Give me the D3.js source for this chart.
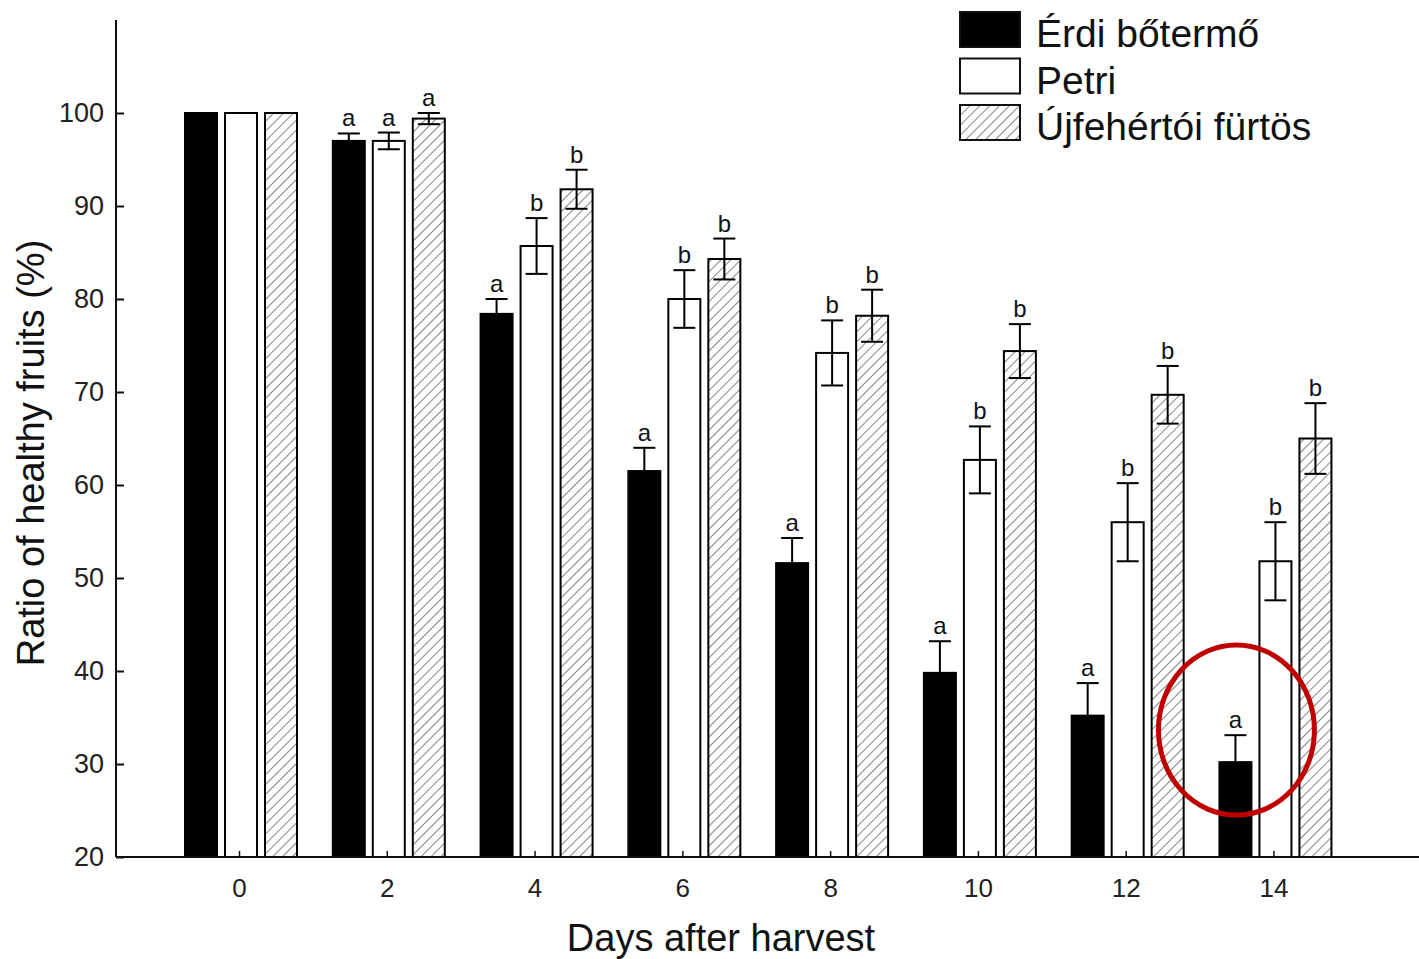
<!DOCTYPE html>
<html>
<head>
<meta charset="utf-8">
<script src="https://cdn.jsdelivr.net/npm/d3@7"></script>
<style>
  body { margin: 0; background: #fff; }
  svg { font-family: Arial, "Liberation Sans", sans-serif; }
</style>
</head>
<body>
<div id="chart"></div>
<script>
// data
var days = [0, 2, 4, 6, 8, 10, 12, 14];
var series = ["Érdi bőtermő", "Petri", "Újfehértói fürtös"];
var erdiVals = [100, 97.0, 78.4, 61.5, 51.6, 39.8, 35.2, 30.2];
var erdiErr = [0, 0.8, 1.6, 2.5, 2.7, 3.4, 3.5, 2.9];
var petriVals = [100, 97.0, 85.7, 80.0, 74.2, 62.7, 56.0, 51.8];
var petriErr = [0, 0.9, 3.0, 3.1, 3.5, 3.6, 4.2, 4.2];
var ujfVals = [100, 99.4, 91.8, 84.3, 78.2, 74.4, 69.7, 65.0];
var ujfErr = [0, 0.6, 2.1, 2.2, 2.8, 2.9, 3.1, 3.8];
var erdiLetters = ["", "a", "a", "a", "a", "a", "a", "a"];
var petriLetters = ["", "a", "b", "b", "b", "b", "b", "b"];
var ujfLetters = ["", "a", "b", "b", "b", "b", "b", "b"];
var yTicks = [20, 30, 40, 50, 60, 70, 80, 90, 100];

var W = 1419, H = 959;
var svg = d3.select("#chart").append("svg").attr("width", W).attr("height", H);

var defs = svg.append("defs");
var pat = defs.append("pattern")
    .attr("id", "hatch")
    .attr("patternUnits", "userSpaceOnUse")
    .attr("width", 7).attr("height", 7)
    .attr("patternTransform", "rotate(45)");
pat.append("rect").attr("width", 7).attr("height", 7).attr("fill", "#fff");
pat.append("line").attr("x1", 0).attr("y1", 0).attr("x2", 0).attr("y2", 7)
    .attr("stroke", "#444").attr("stroke-width", 1.3);

var fills = ["#000", "#fff", "url(#hatch)"];

var x = d3.scaleLinear().domain([-1.665, 15.97]).range([116, 1419]);
var y = d3.scaleLinear().domain([20, 110]).range([857, 20]);
var sub = d3.scaleBand().domain(series).range([-54, 58]).paddingInner(0.2);

var table = [];
days.forEach(function (d, i) {
    table.push({day: d, s: series[0], v: erdiVals[i], e: erdiErr[i], l: erdiLetters[i], k: 0});
    table.push({day: d, s: series[1], v: petriVals[i], e: petriErr[i], l: petriLetters[i], k: 1});
    table.push({day: d, s: series[2], v: ujfVals[i], e: ujfErr[i], l: ujfLetters[i], k: 2});
});

// bars
svg.append("g").selectAll("rect").data(table).enter().append("rect")
    .attr("x", function (d) { return x(d.day) + sub(d.s); })
    .attr("y", function (d) { return y(d.v); })
    .attr("width", sub.bandwidth())
    .attr("height", function (d) { return y(20) - y(d.v); })
    .attr("fill", function (d) { return fills[d.k]; })
    .attr("stroke", "#000").attr("stroke-width", 2);

// error bars
var eb = svg.append("g").selectAll("g").data(table.filter(function (d) { return d.e > 0; }))
    .enter().append("g")
    .attr("transform", function (d) { return "translate(" + (x(d.day) + sub(d.s) + sub.bandwidth() / 2) + ",0)"; });
eb.append("line")
    .attr("y1", function (d) { return y(d.v - d.e); })
    .attr("y2", function (d) { return y(d.v + d.e); })
    .attr("stroke", "#000").attr("stroke-width", 2);
eb.append("line").attr("x1", -11).attr("x2", 11)
    .attr("y1", function (d) { return y(d.v + d.e); })
    .attr("y2", function (d) { return y(d.v + d.e); })
    .attr("stroke", "#000").attr("stroke-width", 2);
eb.append("line").attr("x1", -11).attr("x2", 11)
    .attr("y1", function (d) { return y(d.v - d.e); })
    .attr("y2", function (d) { return y(d.v - d.e); })
    .attr("stroke", "#000").attr("stroke-width", 2);
eb.append("text")
    .attr("y", function (d) { return y(d.v + d.e) - 7; })
    .attr("text-anchor", "middle")
    .attr("font-size", 24).attr("fill", "#111")
    .text(function (d) { return d.l; });

// axes
var yAxis = d3.axisRight(y).tickValues(yTicks).tickSize(8);
var gy = svg.append("g").attr("transform", "translate(116,0)").call(yAxis);
gy.select(".domain").attr("d", "M0," + y(110) + "V" + y(20)).attr("stroke", "#111").attr("stroke-width", 2);
gy.selectAll(".tick line").attr("stroke", "#111").attr("stroke-width", 2);
gy.selectAll(".tick text").attr("text-anchor", "end").attr("x", -12).attr("font-size", 27).attr("fill", "#222");

var xAxis = d3.axisTop(x).tickValues(days).tickSize(6).tickFormat(d3.format("d"));
var gx = svg.append("g").attr("transform", "translate(0," + y(20) + ")").call(xAxis);
gx.select(".domain").attr("d", "M116,0H1419").attr("stroke", "#111").attr("stroke-width", 2);
gx.selectAll(".tick line").attr("stroke", "#111").attr("stroke-width", 1.5);
gx.selectAll(".tick text").attr("y", 40).attr("font-size", 26).attr("fill", "#222");

svg.append("text")
    .attr("transform", "translate(44,453) rotate(-90)")
    .attr("text-anchor", "middle").attr("font-size", 38).attr("fill", "#111")
    .text("Ratio of healthy fruits (%)");
svg.append("text")
    .attr("x", 721).attr("y", 951)
    .attr("text-anchor", "middle").attr("font-size", 38).attr("fill", "#111")
    .text("Days after harvest");

// legend
var lg = svg.append("g").attr("transform", "translate(960,12)");
var li = lg.selectAll("g").data(series).enter().append("g")
    .attr("transform", function (d, i) { return "translate(0," + (i * 46.5) + ")"; });
li.append("rect").attr("width", 60).attr("height", 35)
    .attr("fill", function (d, i) { return fills[i]; })
    .attr("stroke", "#111").attr("stroke-width", 2);
li.append("text").attr("x", 76).attr("y", 35)
    .attr("font-size", 39).attr("fill", "#111")
    .text(function (d) { return d; });

// red annotation ring around day 14 Érdi bar
svg.append("ellipse")
    .attr("cx", x(14) + sub(series[0]) + sub.bandwidth() / 2 + 1)
    .attr("cy", y(33.65))
    .attr("rx", 78).attr("ry", 85)
    .attr("fill", "none").attr("stroke", "#c00000").attr("stroke-width", 5);
</script>
</body>
</html>
